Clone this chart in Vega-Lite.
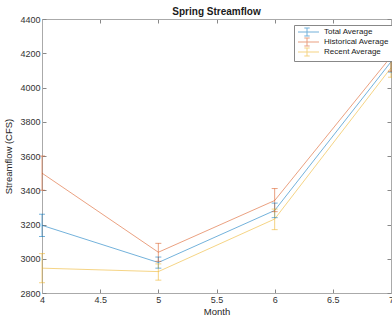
{
  "$schema": "https://vega.github.io/schema/vega-lite/v6.json",
  "width": 349,
  "height": 274,
  "autosize": {"type": "none"},
  "padding": {"left": 42, "top": 19, "right": 1, "bottom": 33},
  "background": "white",
  "title": {"text": "Spring Streamflow", "font": "Liberation Sans", "fontSize": 10, "fontWeight": "bold", "color": "#1a1a1a", "offset": -2, "anchor": "middle"},
  "config": {
    "view": {"stroke": "#aaaaaa", "strokeWidth": 1},
    "axis": {
      "labelFont": "Liberation Sans", "labelFontSize": 9, "labelColor": "#333333",
      "titleFont": "Liberation Sans", "titleFontSize": 9.5, "titleFontWeight": "normal", "titleColor": "#262626",
      "domainColor": "#aaaaaa", "tickColor": "#888888", "grid": false, "tickSize": -4, "labelOverlap": false
    }
  },
  "data": {"values": [
    {"month": 4, "series": "Total Average", "mean": 3195, "lo": 3130, "hi": 3260},
    {"month": 5, "series": "Total Average", "mean": 2978, "lo": 2945, "hi": 3010},
    {"month": 6, "series": "Total Average", "mean": 3282, "lo": 3240, "hi": 3325},
    {"month": 7, "series": "Total Average", "mean": 4150, "lo": 4090, "hi": 4210},
    {"month": 4, "series": "Historical Average", "mean": 3500, "lo": 3400, "hi": 3600},
    {"month": 5, "series": "Historical Average", "mean": 3038, "lo": 2985, "hi": 3090},
    {"month": 6, "series": "Historical Average", "mean": 3340, "lo": 3275, "hi": 3410},
    {"month": 7, "series": "Historical Average", "mean": 4180, "lo": 4095, "hi": 4270},
    {"month": 4, "series": "Recent Average", "mean": 2945, "lo": 2860, "hi": 3030},
    {"month": 5, "series": "Recent Average", "mean": 2925, "lo": 2875, "hi": 2970},
    {"month": 6, "series": "Recent Average", "mean": 3232, "lo": 3170, "hi": 3290},
    {"month": 7, "series": "Recent Average", "mean": 4115, "lo": 4060, "hi": 4170}
  ]},
  "layer": [
    {
      "layer": [
        {
          "mark": {"type": "line", "strokeWidth": 1, "opacity": 0.55},
          "encoding": {
            "x": {"field": "month", "type": "quantitative", "scale": {"domain": [4, 7], "nice": false, "zero": false},
                  "axis": {"title": "Month", "values": [4, 4.5, 5, 5.5, 6, 6.5, 7], "format": "~g", "labelPadding": 6, "titlePadding": 2, "labelFlush": false, "labelOverlap": false}},
            "y": {"field": "mean", "type": "quantitative", "scale": {"domain": [2800, 4400], "nice": false, "zero": false},
                  "axis": {"title": "Streamflow (CFS)", "values": [2800, 3000, 3200, 3400, 3600, 3800, 4000, 4200, 4400], "tickCount": 9, "labelPadding": 6, "titlePadding": 6, "format": "d", "labelOverlap": false, "labelFlush": false}},
            "color": {"field": "series", "type": "nominal",
                      "scale": {"domain": ["Total Average", "Historical Average", "Recent Average"], "range": ["#0072BD", "#D95319", "#EDB120"]},
                      "legend": {"title": null, "orient": "none", "legendX": 252, "legendY": 6,
                                 "symbolType": "M-1,0H6M2,-1.33V1.33M1.1,-1.33H2.9M1.1,1.33H2.9", "symbolSize": 36,
                                 "symbolStrokeWidth": 1, "symbolOpacity": 0.7, "symbolFillColor": "transparent",
                                 "labelFont": "Liberation Sans", "labelFontSize": 8, "labelColor": "#1a1a1a",
                                 "strokeColor": "#888888", "fillColor": "white", "padding": 3, "rowPadding": -3, "labelOffset": 19}}
          }
        },
        {
          "mark": {"type": "rule", "strokeWidth": 1, "opacity": 0.55},
          "encoding": {
            "x": {"field": "month", "type": "quantitative"},
            "y": {"field": "lo", "type": "quantitative",
                  "axis": {"title": "Streamflow (CFS)", "values": [2800, 3000, 3200, 3400, 3600, 3800, 4000, 4200, 4400], "tickCount": 9, "labelPadding": 6, "titlePadding": 6, "format": "d", "labelOverlap": false, "labelFlush": false}},
            "y2": {"field": "hi"},
            "color": {"field": "series", "type": "nominal"}
          }
        },
        {
          "mark": {"type": "tick", "orient": "horizontal", "size": 6, "thickness": 1, "opacity": 0.55},
          "encoding": {
            "x": {"field": "month", "type": "quantitative"},
            "y": {"field": "lo", "type": "quantitative",
                  "axis": {"title": "Streamflow (CFS)", "values": [2800, 3000, 3200, 3400, 3600, 3800, 4000, 4200, 4400], "tickCount": 9, "labelPadding": 6, "titlePadding": 6, "format": "d", "labelOverlap": false, "labelFlush": false}},
            "color": {"field": "series", "type": "nominal"}
          }
        },
        {
          "mark": {"type": "tick", "orient": "horizontal", "size": 6, "thickness": 1, "opacity": 0.55},
          "encoding": {
            "x": {"field": "month", "type": "quantitative"},
            "y": {"field": "hi", "type": "quantitative",
                  "axis": {"title": "Streamflow (CFS)", "values": [2800, 3000, 3200, 3400, 3600, 3800, 4000, 4200, 4400], "tickCount": 9, "labelPadding": 6, "titlePadding": 6, "format": "d", "labelOverlap": false, "labelFlush": false}},
            "color": {"field": "series", "type": "nominal"}
          }
        }
      ]
    },
    {
      "mark": {"type": "point", "opacity": 0},
      "encoding": {
        "x": {"field": "month", "type": "quantitative", "scale": {"domain": [4, 7], "nice": false, "zero": false},
              "axis": {"orient": "top", "labels": false, "title": null, "values": [4, 4.5, 5, 5.5, 6, 6.5, 7]}},
        "y": {"field": "mean", "type": "quantitative", "scale": {"domain": [2800, 4400], "nice": false, "zero": false},
              "axis": {"orient": "right", "labels": false, "title": null, "values": [2800, 3000, 3200, 3400, 3600, 3800, 4000, 4200, 4400]}}
      }
    }
  ],
  "resolve": {"scale": {"x": "independent", "y": "independent"}, "axis": {"x": "independent", "y": "independent"}}
}
